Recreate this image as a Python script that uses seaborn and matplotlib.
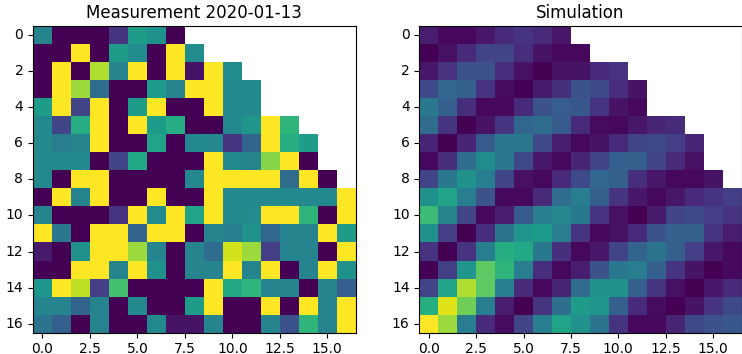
import numpy as np
import matplotlib
matplotlib.use("Agg")
import matplotlib.pyplot as plt
import seaborn as sns

# Number of valid cells in each row (the upper-right corner is not covered)
row_lengths = [8, 9, 11, 12, 12, 14, 15, 15, 16, 17, 17, 17, 17, 17, 17, 17, 17]

measurement_rows = [
    [0.45, 0, 0, 0, 0.15, 0.55, 0.5, 0],
    [0, 0, 1, 0, 0.55, 0.48, 0, 1, 0.48],
    [0, 1, 0, 0.88, 0.45, 1, 0, 1, 0.05, 1, 0.48],
    [0, 1, 0.85, 0.35, 0, 0, 0.55, 0.45, 1, 1, 0.47, 0.47],
    [0.55, 1, 0.2, 1, 0, 0.55, 1, 0, 0, 1, 0.47, 0.47],
    [0.47, 0.2, 0.62, 1, 0, 1, 0.55, 0.62, 0, 0, 0.47, 0.52, 1, 0.65],
    [0.47, 0.42, 0.45, 1, 0, 0, 0.58, 0, 0.47, 0.47, 0.15, 0.32, 1, 0.62, 0.55],
    [0.47, 0.47, 0.47, 0, 0.2, 0.6, 0, 0, 0, 1, 0.47, 0.45, 0.82, 1, 0],
    [0.47, 0, 1, 1, 0, 0, 0, 0, 0.47, 1, 1, 1, 1, 0.35, 1, 0],
    [0, 1, 0.45, 1, 0, 0, 1, 0, 0, 1, 0.47, 0.47, 0.47, 0.47, 0.47, 0.47, 1],
    [0.45, 0, 0, 0, 0.15, 1, 0.48, 1, 0.58, 1, 0.47, 0.48, 1, 1, 0.65, 0, 1],
    [1, 0.4, 0, 1, 1, 0.32, 1, 1, 0, 0.45, 0.43, 0.5, 0.33, 0.45, 0.45, 1, 0.55],
    [0.07, 0, 0.5, 1, 1, 0.85, 0.45, 0, 0.45, 0.35, 0.93, 0.85, 0.18, 0.45, 0.45, 0, 1],
    [0, 0, 1, 1, 0.45, 1, 0.5, 0, 0.45, 0.45, 1, 0.45, 1, 0, 0.45, 1, 0.5],
    [0.52, 1, 0.9, 0.18, 0.7, 0, 0, 0, 0, 1, 0.6, 0.65, 0.45, 0.45, 0, 0.45, 0.3],
    [0.45, 0.45, 0.32, 0.45, 0, 0.47, 0, 0, 0.55, 1, 0, 0, 1, 0, 1, 0.45, 1],
    [0.38, 0.3, 0, 0.45, 0, 0, 0.47, 0.05, 0.05, 0.45, 0, 0, 0.45, 0.25, 0.65, 0.45, 1],
]

simulation_rows = [
    [0.08, 0.02, 0.02, 0.06, 0.12, 0.15, 0.12, 0.06],
    [0.0, 0.04, 0.12, 0.2, 0.2, 0.13, 0.05, 0.02, 0.02],
    [0.06, 0.15, 0.25, 0.25, 0.13, 0.04, 0.0, 0.05, 0.05, 0.12, 0.15],
    [0.22, 0.33, 0.3, 0.15, 0.03, 0.0, 0.07, 0.14, 0.25, 0.22, 0.13, 0.05],
    [0.4, 0.3, 0.13, 0.02, 0.02, 0.12, 0.25, 0.29, 0.27, 0.15, 0.05, 0.02],
    [0.35, 0.15, 0.0, 0.05, 0.15, 0.33, 0.35, 0.28, 0.12, 0.03, 0.02, 0.06, 0.1, 0.12],
    [0.1, 0.0, 0.1, 0.28, 0.4, 0.4, 0.22, 0.08, 0.02, 0.05, 0.12, 0.2, 0.22, 0.18, 0.1],
    [0.02, 0.13, 0.35, 0.48, 0.4, 0.22, 0.06, 0.02, 0.1, 0.2, 0.3, 0.3, 0.2, 0.12, 0.04],
    [0.2, 0.4, 0.5, 0.42, 0.2, 0.04, 0.02, 0.11, 0.22, 0.33, 0.3, 0.13, 0.06, 0.02, 0.02, 0.05],
    [0.5, 0.58, 0.42, 0.25, 0.02, 0.02, 0.12, 0.35, 0.42, 0.3, 0.15, 0.06, 0.02, 0.06, 0.12, 0.15, 0.18],
    [0.68, 0.45, 0.2, 0.02, 0.08, 0.28, 0.42, 0.46, 0.4, 0.15, 0.04, 0.0, 0.07, 0.2, 0.22, 0.18, 0.15],
    [0.5, 0.18, 0.0, 0.13, 0.38, 0.52, 0.55, 0.42, 0.15, 0.02, 0.04, 0.12, 0.25, 0.3, 0.3, 0.15, 0.08],
    [0.15, 0.0, 0.15, 0.42, 0.62, 0.6, 0.4, 0.14, 0.02, 0.06, 0.2, 0.32, 0.38, 0.3, 0.18, 0.06, 0.02],
    [0.0, 0.18, 0.52, 0.75, 0.65, 0.42, 0.13, 0.02, 0.08, 0.25, 0.4, 0.42, 0.3, 0.15, 0.05, 0.0, 0.02],
    [0.2, 0.58, 0.88, 0.75, 0.42, 0.12, 0.02, 0.1, 0.35, 0.5, 0.5, 0.3, 0.15, 0.04, 0.0, 0.06, 0.12],
    [0.62, 0.95, 0.78, 0.42, 0.08, 0.0, 0.15, 0.36, 0.55, 0.52, 0.3, 0.12, 0.03, 0.0, 0.05, 0.15, 0.22],
    [1.0, 0.85, 0.42, 0.12, 0.03, 0.2, 0.42, 0.58, 0.5, 0.38, 0.15, 0.02, 0.02, 0.1, 0.22, 0.25, 0.27],
]

titles = ["Measurement 2020-01-13", "Simulation"]
x_tick_values = [0.0, 2.5, 5.0, 7.5, 10.0, 12.5, 15.0]
y_tick_values = [0, 2, 4, 6, 8, 10, 12, 14, 16]


def to_grid(rows, n=17):
    grid = np.full((n, n), np.nan)
    for i, r in enumerate(rows):
        grid[i, :len(r)] = r
    return grid


fig = plt.figure(figsize=(7.42, 3.54), dpi=100)
positions = [
    [33 / 742, 21.3 / 354, 322.7 / 742, 306.7 / 354],
    [419.3 / 742, 21.3 / 354, 322.2 / 742, 306.7 / 354],
]

for rows, title, pos in zip([measurement_rows, simulation_rows], titles, positions):
    ax = fig.add_axes(pos)
    grid = to_grid(rows)
    sns.heatmap(grid, mask=np.isnan(grid), cmap="viridis", vmin=0, vmax=1,
                cbar=False, square=False, ax=ax)
    ax.set_xticks([v + 0.5 for v in x_tick_values])
    ax.set_xticklabels([f"{v:.1f}" for v in x_tick_values], rotation=0, fontsize=10)
    ax.set_yticks([v + 0.5 for v in y_tick_values])
    ax.set_yticklabels([str(v) for v in y_tick_values], rotation=0, fontsize=10)
    ax.tick_params(length=3.5, width=0.8, direction="out", color="black")
    for spine in ax.spines.values():
        spine.set_visible(True)
        spine.set_color("black")
        spine.set_linewidth(0.8)
    ax.set_title(title, fontsize=12)

fig.savefig("out.png", dpi=100)
